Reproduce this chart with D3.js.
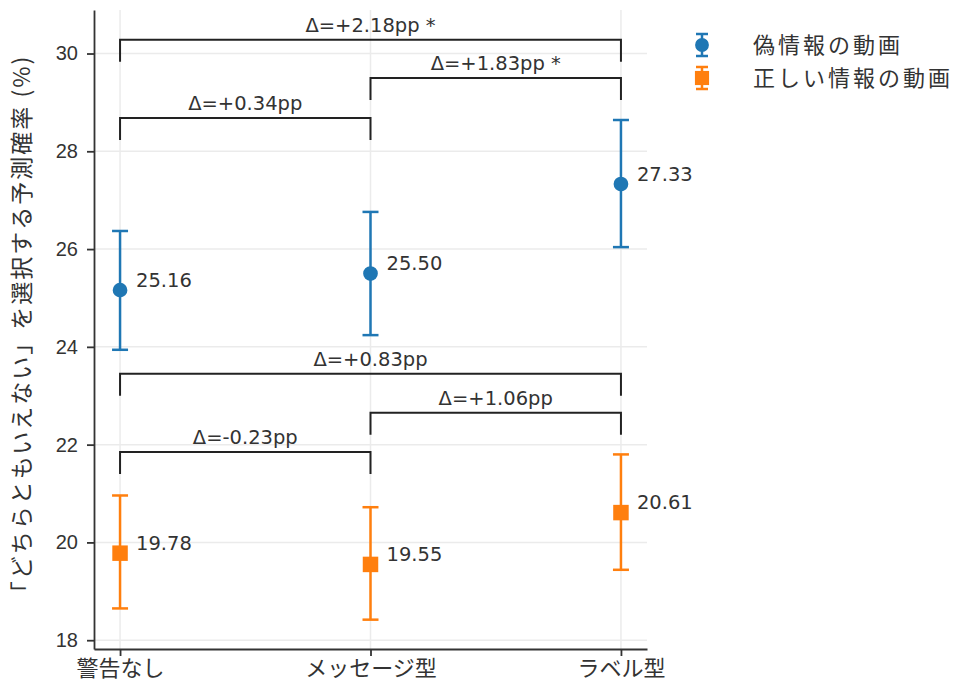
<!DOCTYPE html>
<html>
  <head>
    <meta charset="utf-8">
    <title>警告タイプ別の予測確率</title>
    <script src="https://d3js.org/d3.v7.min.js"></script>
    <style>
      body { margin: 0; background: #fff; }
      svg { display: block; font-family: "DejaVu Sans", "Noto Sans CJK JP", sans-serif; }
      .grid line { stroke: #ebebeb; stroke-width: 1.5; }
      .axis path, .axis line { stroke: #333; stroke-width: 1.8; }
      .axis text { fill: #333; font-size: 20px; }
      .axis.xaxis text { font-size: 22px; font-family: "Noto Sans CJK JP", sans-serif; }
      .bracket { fill: none; stroke: #222; stroke-width: 2; }
      .delta { fill: #333; font-size: 19.5px; text-anchor: middle; }
      .value { fill: #333; font-size: 19.5px; }
      .legend text { fill: #333; font-size: 22px; letter-spacing: 3px; font-family: "Noto Sans CJK JP", sans-serif; }
      .ylabel { fill: #333; font-size: 23px; letter-spacing: 2px; font-family: "Noto Sans CJK JP", sans-serif; }
    </style>
  </head>
  <body>
    <svg id="chart" width="957" height="686"></svg>
    <script>
      // chart data
      var categories = ["警告なし", "メッセージ型", "ラベル型"];
      var seriesNames = ["偽情報の動画", "正しい情報の動画"];
      var fakeMean = [25.16, 25.50, 27.33];
      var fakeLow = [23.94, 24.24, 26.04];
      var fakeHigh = [26.37, 26.76, 28.64];
      var trueMean = [19.78, 19.55, 20.61];
      var trueLow = [18.65, 18.42, 19.44];
      var trueHigh = [20.96, 20.72, 21.80];
      var yTicks = [18, 20, 22, 24, 26, 28, 30];
      // comparison brackets (pairs of category index, base level in %)
      var bracketPairs = [[0, 1], [1, 2], [0, 2]];
      var fakeDeltas = ["Δ=+0.34pp", "Δ=+1.83pp *", "Δ=+2.18pp *"];
      var fakeBracketBase = [28.23, 29.05, 29.83];
      var trueDeltas = ["Δ=-0.23pp", "Δ=+1.06pp", "Δ=+0.83pp"];
      var trueBracketBase = [21.40, 22.20, 23.00];
      var bracketRise = 0.45;

      var colors = ["#1f77b4", "#ff7f0e"];
      var margin = { top: 10, right: 310, bottom: 37, left: 94 };
      var width = 957, height = 686;

      var chart = d3.select("#chart");

      var x = d3.scalePoint()
        .domain(categories)
        .range([margin.left, width - margin.right])
        .padding(0.104);
      var y = d3.scaleLinear()
        .domain([17.82, 30.89])
        .range([height - margin.bottom, margin.top]);

      // grid
      var grid = chart.append("g").classed("grid", true);
      grid.selectAll(".h")
        .data(yTicks)
        .enter().append("line")
          .attr("x1", margin.left)
          .attr("x2", width - margin.right)
          .attr("y1", function(d) { return y(d); })
          .attr("y2", function(d) { return y(d); });
      grid.selectAll(".v")
        .data(categories)
        .enter().append("line")
          .attr("x1", function(d) { return x(d); })
          .attr("x2", function(d) { return x(d); })
          .attr("y1", margin.top)
          .attr("y2", height - margin.bottom);

      // axes
      chart.append("g")
        .classed("axis", true)
        .attr("transform", "translate(" + margin.left + ",0)")
        .call(d3.axisLeft(y).tickValues(yTicks).tickSize(7).tickPadding(9).tickSizeOuter(0));
      chart.append("g")
        .classed("axis xaxis", true)
        .attr("transform", "translate(0," + (height - margin.bottom) + ")")
        .call(d3.axisBottom(x).tickSize(7).tickPadding(4).tickSizeOuter(0));

      chart.append("text")
        .classed("ylabel", true)
        .attr("transform", "translate(22," + ((margin.top + height - margin.bottom) / 2) + ") rotate(-90)")
        .attr("text-anchor", "middle")
        .attr("dy", "0.35em")
        .text("「どちらともいえない」を選択する予測確率 (%)");

      // series
      var series = [
        { name: seriesNames[0], mean: fakeMean, low: fakeLow, high: fakeHigh, shape: d3.symbolCircle },
        { name: seriesNames[1], mean: trueMean, low: trueLow, high: trueHigh, shape: d3.symbolSquare }
      ];
      var capHalf = 8;

      series.forEach(function(s, i) {
        var g = chart.append("g");
        var pts = categories.map(function(c, j) {
          return { cat: c, mean: s.mean[j], low: s.low[j], high: s.high[j] };
        });
        var pt = g.selectAll(".pt").data(pts).enter().append("g");
        pt.append("line")
          .attr("x1", function(d) { return x(d.cat); })
          .attr("x2", function(d) { return x(d.cat); })
          .attr("y1", function(d) { return y(d.low); })
          .attr("y2", function(d) { return y(d.high); })
          .attr("stroke", colors[i]).attr("stroke-width", 2.5);
        ["low", "high"].forEach(function(k) {
          pt.append("line")
            .attr("x1", function(d) { return x(d.cat) - capHalf; })
            .attr("x2", function(d) { return x(d.cat) + capHalf; })
            .attr("y1", function(d) { return y(d[k]); })
            .attr("y2", function(d) { return y(d[k]); })
            .attr("stroke", colors[i]).attr("stroke-width", 2.5);
        });
        pt.append("path")
          .attr("d", d3.symbol().type(s.shape).size(i == 0 ? 170 : 240))
          .attr("transform", function(d) { return "translate(" + x(d.cat) + "," + y(d.mean) + ")"; })
          .attr("fill", colors[i]);
        pt.append("text")
          .classed("value", true)
          .attr("x", function(d) { return x(d.cat) + 16; })
          .attr("y", function(d) { return y(d.mean) - 10; })
          .attr("dy", "0.35em")
          .text(function(d) { return d.mean.toFixed(2); });
      });

      // comparison brackets
      function drawBrackets(base, labels) {
        bracketPairs.forEach(function(p, i) {
          var x1 = x(categories[p[0]]), x2 = x(categories[p[1]]);
          var y0 = y(base[i]), y1 = y(base[i] + bracketRise);
          chart.append("path")
            .classed("bracket", true)
            .attr("d", "M" + x1 + "," + y0 + "V" + y1 + "H" + x2 + "V" + y0);
          chart.append("text")
            .classed("delta", true)
            .attr("x", (x1 + x2) / 2)
            .attr("y", y1 - 8)
            .text(labels[i]);
        });
      }
      drawBrackets(fakeBracketBase, fakeDeltas);
      drawBrackets(trueBracketBase, trueDeltas);

      // legend
      var legend = chart.append("g")
        .classed("legend", true)
        .attr("transform", "translate(702,45)");
      var item = legend.selectAll(".item")
        .data(series)
        .enter().append("g")
          .attr("transform", function(d, i) { return "translate(0," + (i * 33) + ")"; });
      item.append("line")
        .attr("y1", -11).attr("y2", 11)
        .attr("stroke", function(d, i) { return colors[i]; }).attr("stroke-width", 2.5);
      [-11, 11].forEach(function(cy) {
        item.append("line")
          .attr("x1", -6).attr("x2", 6).attr("y1", cy).attr("y2", cy)
          .attr("stroke", function(d, i) { return colors[i]; }).attr("stroke-width", 2.5);
      });
      item.append("path")
        .attr("d", function(d, i) { return d3.symbol().type(d.shape).size(i == 0 ? 150 : 200)(); })
        .attr("fill", function(d, i) { return colors[i]; });
      item.append("text")
        .attr("x", 51)
        .attr("dy", "0.35em")
        .text(function(d) { return d.name; });
    </script>
  </body>
</html>
